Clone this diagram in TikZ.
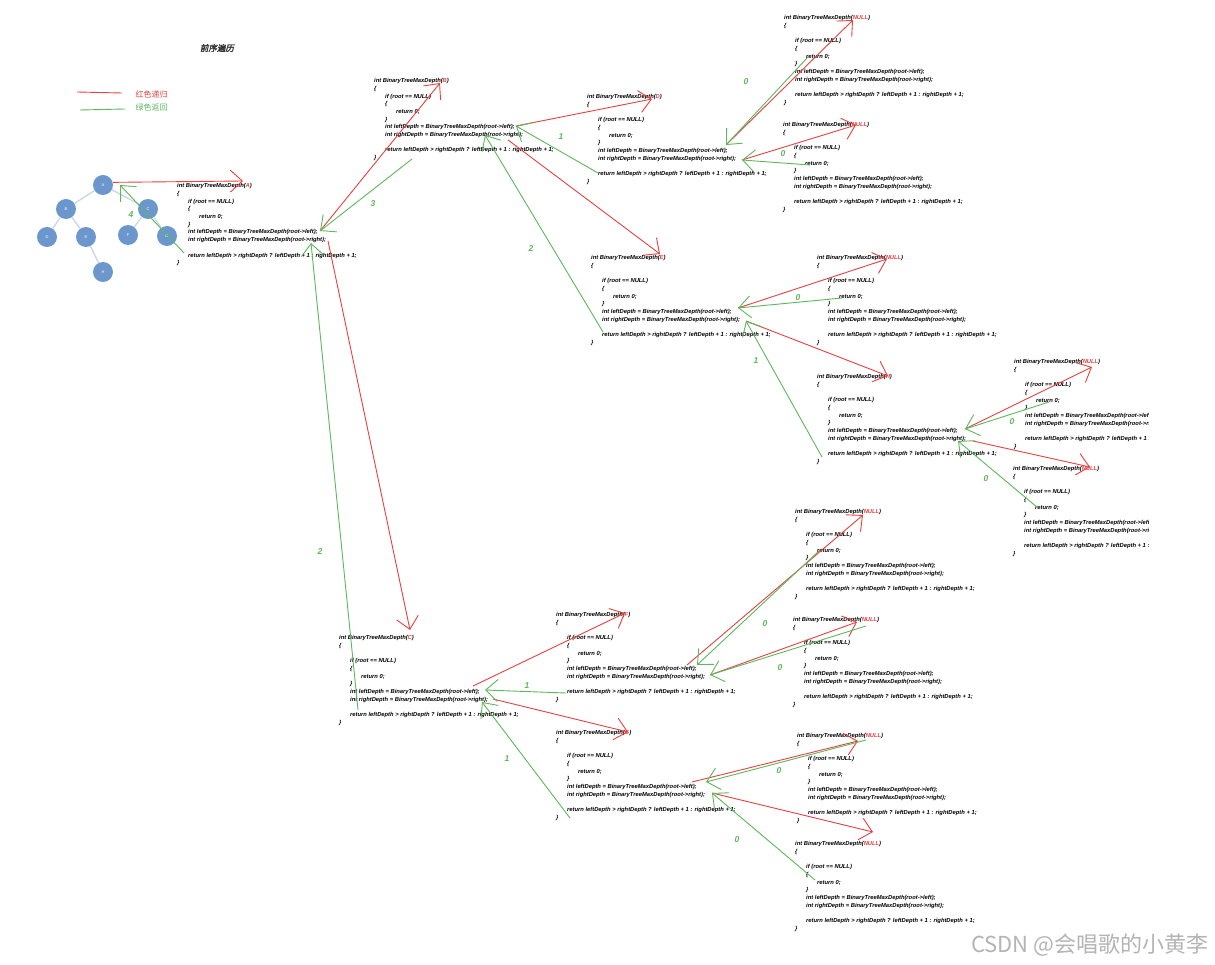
\documentclass[tikz,border=0pt]{standalone}
\usepackage{fontspec}
\setmainfont{Liberation Sans}
\newfontfamily\cjk{Noto Sans CJK SC}
\newfontfamily\cjktitle[FakeSlant=0.2,FakeBold=2]{Noto Sans CJK SC}
\usetikzlibrary{arrows.meta,calc}
\definecolor{CallRed}{HTML}{E8403F}
\definecolor{ReturnGreen}{HTML}{5DB75D}
\definecolor{TreeBlue}{HTML}{6B97CC}
\definecolor{TreeEdge}{HTML}{C9D7E4}
\definecolor{MarkGray}{HTML}{B4B4B4}

\newcommand{\depthcode}[2][7.7pt]{%
int BinaryTreeMaxDepth(\textcolor{CallRed}{#2})\\
\{\\[#1]
\hspace*{11pt}if (root == NULL)\\
\hspace*{11pt}\{\\
\hspace*{22pt}return 0;\\
\hspace*{11pt}\}\\
\hspace*{11pt}int leftDepth = BinaryTreeMaxDepth(root->left);\\
\hspace*{11pt}int rightDepth = BinaryTreeMaxDepth(root->right);\\[7.7pt]
\hspace*{11pt}return leftDepth > rightDepth ? leftDepth + 1 : rightDepth + 1;\\
\}}

\begin{document}
\begin{tikzpicture}[x=1pt,y=-1pt,
  codeblk/.style={anchor=north west,inner sep=0pt,align=left,text=black,
    font=\fontsize{5.8}{7.7}\selectfont\bfseries\itshape},
  treenode/.style={circle,fill=TreeBlue,minimum size=20pt,inner sep=0pt,
    text=white,font=\fontsize{4}{4}\selectfont},
  treeedge/.style={TreeEdge,line width=1.3pt},
  callline/.style={CallRed,line width=0.9pt},
  backline/.style={ReturnGreen,line width=0.9pt},
  tipV/.style={-{Straight Barb[length=12pt,width=22pt]}},
  numlbl/.style={text=ReturnGreen,font=\fontsize{8.5}{8.5}\selectfont\bfseries\itshape}]

  \fill[white] (0,0) rectangle (1215,965);
  \useasboundingbox (0,0) rectangle (1215,965);

  \node[font=\cjktitle\fontsize{8.5}{8.5}\selectfont,text=black!80] (title) at (217,48) {前序遍历};
  \node[anchor=west,text=CallRed,font=\cjk\fontsize{8}{8}\selectfont] (legRed) at (132,94) {红色递归};
  \node[anchor=west,text=ReturnGreen,font=\cjk\fontsize{8}{8}\selectfont] (legGreen) at (132,107) {绿色返回};
  \draw[callline] ($(legRed.west)+(-55,-2)$) -- ($(legRed.west)+(-10,-1)$);
  \draw[backline] ($(legGreen.west)+(-52,3)$) -- ($(legGreen.west)+(-7,2)$);

  \foreach \x/\y/\name in {103/185/A,66/209/B,148/209/C,47/237/D,86/237/E,128/235/F,167/236/G,103/272/H} {
    \node[treenode] (t\name) at (\x,\y) {\name};
  }
  \foreach \a/\b in {A/B,A/C,B/D,B/E,C/F,C/G,E/H}
    \draw[treeedge] (t\a) -- (t\b);

  \foreach \name/\arg/\x/\y/\gap in {A/A/177/185/0pt,B/B/374/80/0pt,D/D/587/96/7.7pt,
      N1/NULL/784/17/7.7pt,N2/NULL/783/124/7.7pt,E/E/591/257/7.7pt,N3/NULL/817/257/7.7pt,
      H/H/817/376/7.7pt,C/C/339/637/7.7pt,F/F/556/614/7.7pt,N6/NULL/795/511/7.7pt,
      N7/NULL/793/619/7.7pt,G/G/556/732/7.7pt,N8/NULL/797/735/7.7pt,N9/NULL/795/843/7.7pt} {
    \node[codeblk] (\name) at (\x,\y-1.7) {\depthcode[\gap]{\arg}};
  }
  \begin{scope}
    \clip (0,0) rectangle (1148,965);
    \node[codeblk] (N4) at (1014,359.3) {\depthcode{NULL}};
    \node[codeblk] (N5) at (1013,466.3) {\depthcode{NULL}};
  \end{scope}

  \foreach \name/\x/\y in {tA-back/120/185,tG-out/184/253,
      A-in/243/181,A-l/320/231,A-r/328/241,A-rb/311/243,
      B-in/440/83,B-l/516/126,B-r/508/140,B-rb/485/135,B-ret/412/159,
      D-in/652/99,D-l/726/145,D-r/742/160,D-ret/598/173,
      N1-in/853/20,N1-z/808/57,N2-in/856/125,N2-z/810/165,
      E-in/660/254,E-l/738/308,E-r/746/321,E-ret/603/332,
      N3-in/887/259,N3-z/842/298,
      H-in/888/376,H-l/965/429,H-r/973/441,H-rb/958/441,H-ret/822/457,
      N4-in/1092/367,N4-z/1049/402,N5-in/1090/467,N5-z/1038/508,
      C-in/410/630,C-l/473/686,C-lb/485/690,C-r/493/699,C-rb/482/702,C-ret/358/710,
      F-in/625/613,F-l/687/665,F-lb/697/665,F-r/710/675,F-ret/566/693,
      N6-in/863/515,N6-z/820/550,N7-in/857/622,N7-z/866/626,
      G-in/628/732,G-l/692/782,G-lb/706/782,G-r/712/793,G-ret/570/818,
      N8-in/858/741,N8-z/866/740,N9-in/873/832,N9-z/815/880} {
    \coordinate (\name) at (\x,\y);
  }

  \foreach \a/\b in {tA.15/A-in,A-l/B-in,B-l/D-in,B-r/E-in,D-l/N1-in,D-r/N2-in,
      E-l/N3-in,E-r/H-in,H-l/N4-in,H-r/N5-in,A-r/C-in,C-l/F-in,C-r/G-in,
      F-l/N6-in,F-r/N7-in,G-l/N8-in,G-r/N9-in}
    \draw[callline,tipV] (\a) -- (\b);

  \foreach \a/\b in {tG-out/tA-back,B-ret/A-l,C-ret/A-rb,D-ret/B-l,E-ret/B-rb,
      N1-z/D-l,N2-z/D-r,N3-z/E-l,H-ret/E-r,N4-z/H-l,N5-z/H-rb,
      F-ret/C-lb,G-ret/C-rb,N6-z/F-lb,N7-z/F-r,N8-z/G-lb,N9-z/G-r}
    \draw[backline,tipV] (\a) -- (\b);

  \foreach \x/\y/\n [count=\i] in {131/215/4,373/204/3,320/552/2,561/137/1,531/249/2,
      746/82/0,783/154/0,798/298/0,756/361/1,1012/422/0,986/479/0,
      527/686/1,507/759/1,765/624/0,780/668/0,779/771/0,737/840/0} {
    \node[numlbl] (num\i) at (\x,\y) {\n};
  }

  \node[anchor=east,text=MarkGray,font=\cjk\fontsize{22}{22}\selectfont] (mark) at (1212,945) {CSDN @会唱歌的小黄李};
\end{tikzpicture}
\end{document}
